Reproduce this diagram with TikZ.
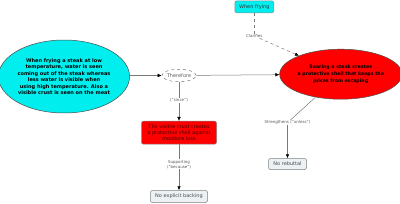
\documentclass[tikz,border=0pt]{standalone}
\usepackage{fontspec}
\setmainfont{DejaVu Sans}
\usetikzlibrary{shapes.geometric,arrows.meta}
\definecolor{cyanfill}{RGB}{0,238,238}
\definecolor{redfill}{RGB}{255,0,0}
\definecolor{lightfill}{RGB}{236,241,244}
\definecolor{linegray}{RGB}{120,120,120}
\definecolor{textgray}{RGB}{90,90,90}
\begin{document}
\begin{tikzpicture}[x=1pt,y=-1pt,
  every node/.style={font=\fontsize{5}{6.4}\selectfont, inner sep=0pt, align=center},
  conn/.style={draw=linegray, line width=0.5pt},
  tip/.style={-{Latex[length=4pt,width=3.6pt,black]}},
  lbl/.style={font=\fontsize{4}{4.9}\selectfont, text=textgray, inner sep=0.6pt, fill=white},
  bigell/.style={ellipse, draw=black!70, line width=0.5pt, font=\fontsize{5}{6.5}\selectfont\bfseries},
  box/.style={rectangle, rounded corners=2pt, draw=black!50, line width=0.5pt},
]
\useasboundingbox (0,0) rectangle (400,204);

\node[bigell, fill=cyanfill, minimum width=126pt, minimum height=73pt] (A) at (64,76.5)
  {When frying a steak at low\\temperature, water is seen\\coming out of the steak whereas\\less water is visible when\\using high temperature. Also a\\visible crust is seen on the meat};

\node[ellipse, draw=linegray, dashed, line width=0.5pt, text=textgray, minimum width=34pt, minimum height=12.5pt] (T) at (179,75.5) {Therefore};

\node[bigell, fill=redfill, minimum width=115pt, minimum height=50pt, font=\fontsize{4.7}{6.6}\selectfont\bfseries] (R) at (340.8,74.2)
  {Searing a steak creates\\a protective shell that keeps the\\juices from escaping};

\node[box, fill=redfill, minimum width=75pt, minimum height=23pt, text={rgb,255:red,70;green,0;blue,0}] (C) at (179,132.7)
  {The visible crust creates\\a protective shell against\\moisture loss};

\node[box, fill=lightfill, minimum width=57pt, minimum height=12pt, text=black!70] (B) at (179,196.5) {No explicit backing};

\node[box, fill=cyanfill, draw=black!45, minimum width=39pt, minimum height=12pt, text=black!80] (WF) at (254.3,6.8) {When frying};

\node[box, fill=lightfill, minimum width=38pt, minimum height=11pt, text=black!70] (NR) at (287.5,164) {No rebuttal};

\node[lbl] (since) at (179,100.7) {("since")};
\node[lbl] (sup) at (179,164.3) {Supporting\\("because")};
\node[lbl] (clar) at (254.3,36) {Clarifies};
\node[lbl] (str) at (287.5,122.7) {Strengthens ("unless")};

\draw[conn,tip] (T.west -| A.east) -- (T.west);
\draw[conn,tip] (T) -- (R);
\draw[conn] (T) -- (since);
\draw[conn,tip] (since) -- (C);
\draw[conn] (C) -- (sup);
\draw[conn,tip] (sup) -- (B);
\draw[conn,dashed] (WF) -- (clar);
\draw[conn,dashed,tip] (clar) -- (R);
\draw[conn] (R) -- (str);
\draw[conn,tip] (str) -- (NR);
\end{tikzpicture}
\end{document}
